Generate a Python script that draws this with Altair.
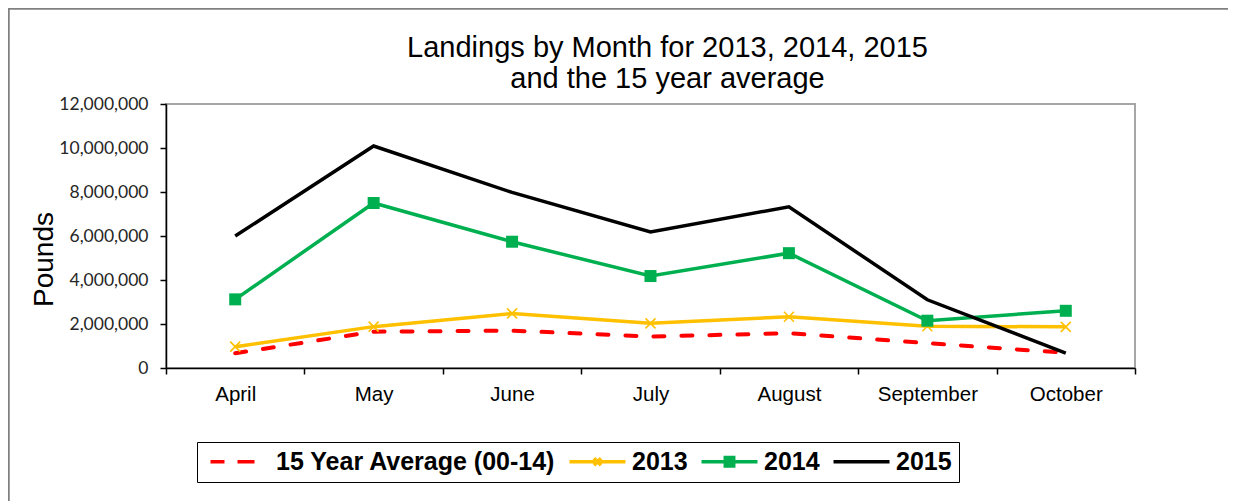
import altair as alt
import pandas as pd

months = ["April", "May", "June", "July", "August", "September", "October"]
avg_00_14 = [670000, 1650000, 1700000, 1430000, 1580000, 1130000, 690000]
landings_2013 = [970000, 1880000, 2480000, 2030000, 2330000, 1900000, 1870000]
landings_2014 = [3120000, 7500000, 5740000, 4180000, 5220000, 2150000, 2600000]
landings_2015 = [6000000, 10090000, 7980000, 6180000, 7330000, 3100000, 680000]

series_names = ["15 Year Average (00-14)", "2013", "2014", "2015"]
series_colors = ["#FF0000", "#FFC000", "#00B050", "#000000"]
legend_shapes = [
    "M-0.6,0H0.8M2.1,0H3.8",
    "M-0.3,0H5.3M2.15,-0.35L2.85,0.35M2.15,0.35L2.85,-0.35",
    "M-0.3,0H5.3M2.08,-0.42H2.92V0.42H2.08Z",
    "M-0.3,0H5.3",
]
y_ticks = [0, 2000000, 4000000, 6000000, 8000000, 10000000, 12000000]

rows = []
for name, vals in zip(series_names, [avg_00_14, landings_2013, landings_2014, landings_2015]):
    for m, v in zip(months, vals):
        rows.append({"month": m, "series": name, "pounds": v})
df = pd.DataFrame(rows)

x_enc = alt.X(
    "month:O",
    sort=months,
    scale=alt.Scale(type="band", domain=months, paddingInner=0, paddingOuter=0),
    axis=alt.Axis(
        title=None, labelAngle=0, tickBand="extent", tickSize=6, tickColor="#000000",
        tickWidth=1.5, domainColor="#000000", domainWidth=1.5, labelFont="Liberation Sans",
        labelFontSize=20.5, labelColor="#000000", labelPadding=10, grid=False,
    ),
)
y_enc = alt.Y(
    "pounds:Q",
    scale=alt.Scale(domain=[0, 12000000], nice=False),
    axis=alt.Axis(
        values=y_ticks, format=",.0f", title="Pounds", titleFont="Liberation Sans",
        titleFontSize=28, titleFontWeight="normal", titleColor="#000000",
        titleX=-122, titleY=155, titleAngle=270, titleAlign="center", titleBaseline="middle",
        tickSize=6, tickColor="#000000", tickWidth=1.5, domainColor="#000000", domainWidth=1.5,
        labelFont="Lato", labelFontSize=17.5, labelColor="#262626", labelPadding=12, grid=False,
    ),
)


def series(name):
    return alt.Chart(df).transform_filter(alt.datum.series == name)


avg_line = series(series_names[0]).mark_line(
    color=series_colors[0], strokeWidth=4, strokeDash=[11, 17], strokeCap="round"
).encode(x=x_enc, y=y_enc)
line_2013 = series("2013").mark_line(color=series_colors[1], strokeWidth=3.5).encode(x=x_enc, y=y_enc)
pts_2013 = series("2013").mark_point(
    shape="M-1,-1L1,1M-1,1L1,-1", size=100, strokeWidth=1.6, color=series_colors[1], opacity=1
).encode(x=x_enc, y=y_enc)
line_2014 = series("2014").mark_line(color=series_colors[2], strokeWidth=3.5).encode(x=x_enc, y=y_enc)
pts_2014 = series("2014").mark_point(
    shape="square", size=144, filled=True, color=series_colors[2], opacity=1
).encode(x=x_enc, y=y_enc)
line_2015 = series("2015").mark_line(color=series_colors[3], strokeWidth=3.5).encode(x=x_enc, y=y_enc)

legend = alt.Legend(
    title=None, orient="none", legendX=31, legendY=338, direction="horizontal", columns=4,
    columnPadding=4, padding=7, strokeColor="#000000", symbolSize=400,
    symbolStrokeWidth=3.5, symbolOpacity=1, labelOffset=47, labelFont="Liberation Sans",
    labelFontSize=25, labelFontWeight="bold", labelColor="#000000", labelLimit=500,
)
legend_layer = alt.Chart(df).transform_filter("false").mark_point(
    filled=True, opacity=1, strokeWidth=3.5
).encode(
    fill=alt.Fill("series:N", scale=alt.Scale(domain=series_names, range=series_colors), legend=legend),
    stroke=alt.Stroke("series:N", scale=alt.Scale(domain=series_names, range=series_colors), legend=legend),
    shape=alt.Shape("series:N", scale=alt.Scale(domain=series_names, range=legend_shapes), legend=legend),
)

frame_df = pd.DataFrame({"k": [0]})
frame_left = alt.Chart(frame_df).mark_rule(color="#808080", strokeWidth=2.5).encode(
    x=alt.value(-157.5), y=alt.value(-97), y2=alt.value(400)
)
frame_top = alt.Chart(frame_df).mark_rule(color="#808080", strokeWidth=2.5).encode(
    x=alt.value(-158), x2=alt.value(1100), y=alt.value(-95.5)
)

chart = alt.layer(
    frame_left, frame_top, avg_line, line_2013, pts_2013, line_2014, pts_2014, line_2015, legend_layer
).properties(
    width=969,
    height=264,
    padding={"left": 158, "top": 96, "right": 93, "bottom": 133},
    autosize=alt.AutoSizeParams(type="none"),
    title=alt.Title(
        text=["Landings by Month for 2013, 2014, 2015", "and the 15 year average"],
        font="Liberation Sans", fontSize=29, fontWeight="normal", color="#000000",
        anchor="middle", dx=17, dy=98, offset=10, lineHeight=31,
    ),
).configure_view(stroke="#A6A6A6", strokeWidth=2)

chart.save("out.html", embed_options={"renderer": "svg", "actions": False})
